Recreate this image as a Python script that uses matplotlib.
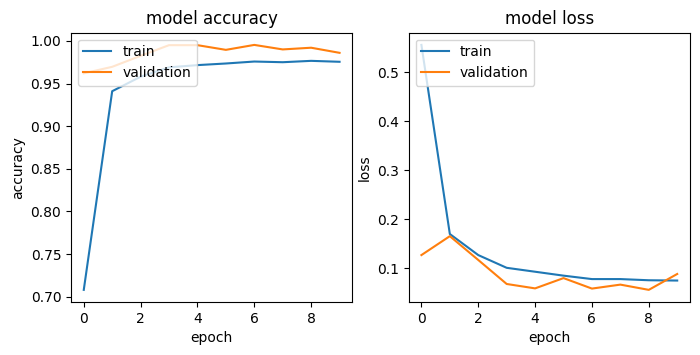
import matplotlib
matplotlib.use("Agg")
import matplotlib.pyplot as plt

epochs = list(range(10))
train_acc = [0.708, 0.941, 0.958, 0.969, 0.9716, 0.9735, 0.9758, 0.975, 0.9766, 0.9755]
val_acc = [0.962, 0.9696, 0.9825, 0.995, 0.995, 0.9895, 0.9953, 0.990, 0.992, 0.986]
train_loss = [0.556, 0.170, 0.127, 0.101, 0.093, 0.085, 0.078, 0.078, 0.0756, 0.075]
val_loss = [0.127, 0.1656, 0.117, 0.068, 0.059, 0.080, 0.0586, 0.0667, 0.056, 0.0884]

fig, (ax1, ax2) = plt.subplots(1, 2, figsize=(7, 3.55), dpi=100)
fig.subplots_adjust(left=0.1014, right=0.9857, bottom=0.149, top=0.908, wspace=0.2)

ax1.plot(epochs, train_acc, label="train")
ax1.plot(epochs, val_acc, label="validation")
ax1.set_title("model accuracy")
ax1.set_ylabel("accuracy")
ax1.set_xlabel("epoch")
ax1.legend(loc="upper left")

ax2.plot(epochs, train_loss, label="train")
ax2.plot(epochs, val_loss, label="validation")
ax2.set_title("model loss")
ax2.set_ylabel("loss")
ax2.set_xlabel("epoch")
ax2.legend(loc="upper left")

fig.savefig("out.png", dpi=100)
